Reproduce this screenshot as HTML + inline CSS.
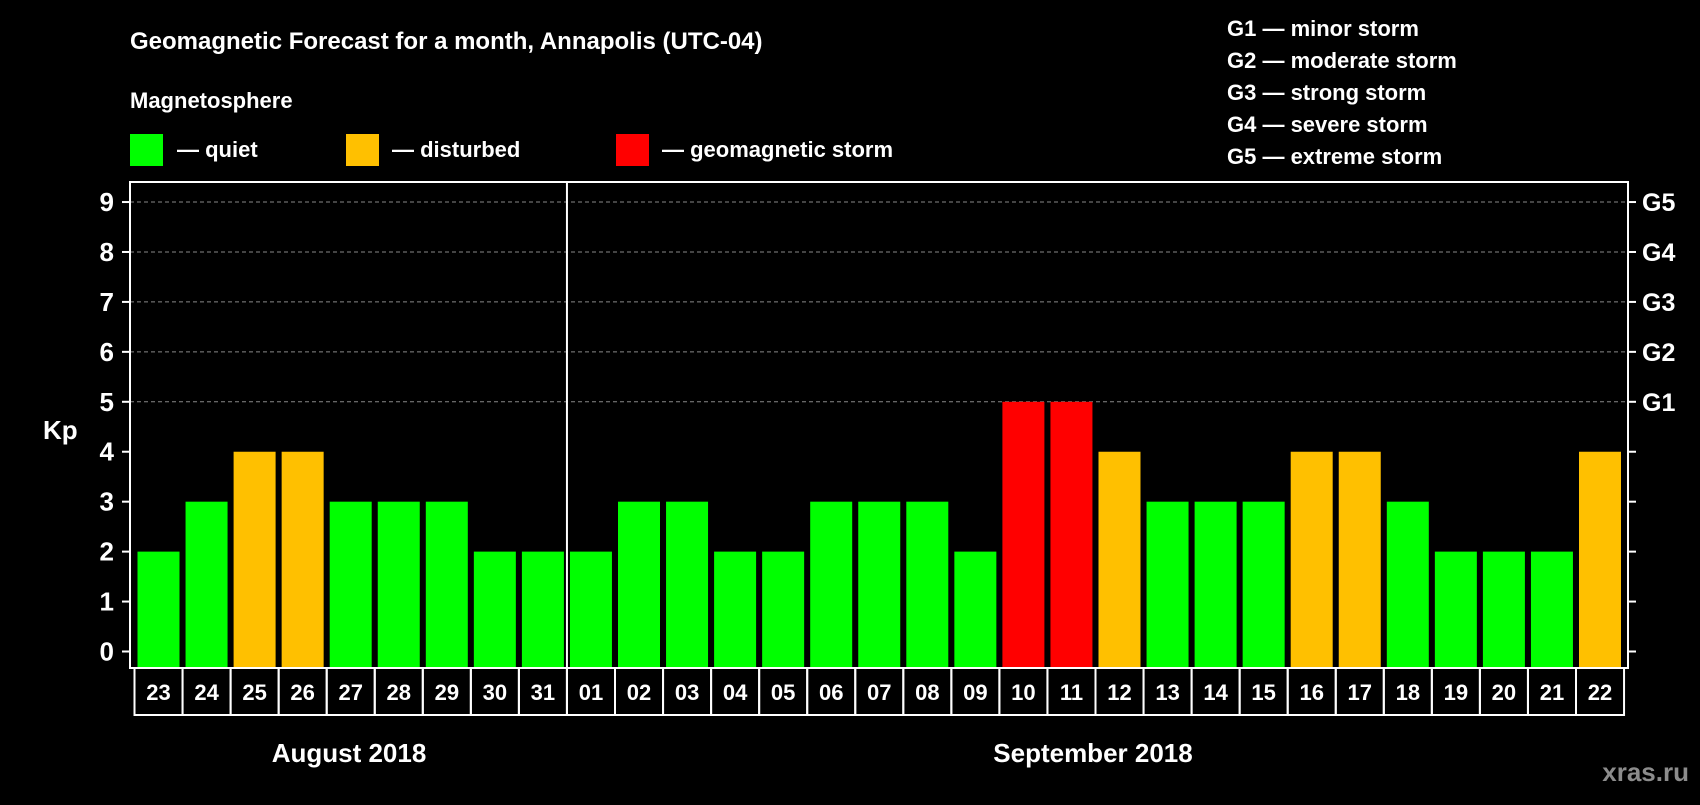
<!DOCTYPE html>
<html><head><meta charset="utf-8"><style>
body{margin:0;background:#000;width:1700px;height:800px;overflow:hidden}
svg text{font-family:"Liberation Sans",Arial,sans-serif;font-weight:bold;fill:#fff}
</style></head><body>
<svg id="c" width="1700" height="800" xmlns="http://www.w3.org/2000/svg">
<rect width="1700" height="800" fill="#000"/>
<text x="130" y="49" font-size="24">Geomagnetic Forecast for a month, Annapolis (UTC-04)</text>
<text x="130" y="108" font-size="22">Magnetosphere</text>
<g><rect x="130" y="134" width="33" height="32" fill="#00ff00"/><text x="177" y="157" font-size="22">— quiet</text></g>
<g><rect x="346" y="134" width="33" height="32" fill="#ffc000"/><text x="392" y="157" font-size="22">— disturbed</text></g>
<g><rect x="616" y="134" width="33" height="32" fill="#ff0000"/><text x="662" y="157" font-size="22">— geomagnetic storm</text></g>
<g font-size="22">
<text x="1227" y="36">G1 — minor storm</text>
<text x="1227" y="68">G2 — moderate storm</text>
<text x="1227" y="100">G3 — strong storm</text>
<text x="1227" y="132">G4 — severe storm</text>
<text x="1227" y="164">G5 — extreme storm</text>
</g>
<text x="43" y="439" font-size="26">Kp</text>
<text x="349" y="762" font-size="26" text-anchor="middle">August 2018</text>
<text x="1093" y="762" font-size="26" text-anchor="middle">September 2018</text>
<text x="1689" y="781" font-size="26" text-anchor="end" style="fill:#8c8c8c">xras.ru</text>
<g id="plot"></g>
</svg>
<script>
const days=["23","24","25","26","27","28","29","30","31","01","02","03","04","05","06","07","08","09","10","11","12","13","14","15","16","17","18","19","20","21","22"];
const kp=[2,3,4,4,3,3,3,2,2,2,3,3,2,2,3,3,3,2,5,5,4,3,3,3,4,4,3,2,2,2,4];
const yTicks=[0,1,2,3,4,5,6,7,8,9];
const gLabels=["","","","","","G1","G2","G3","G4","G5"];
const NS="http://www.w3.org/2000/svg";
const g=document.getElementById('plot');
const L=130,R=1628,T=182,B=668,x0=134.5,slot=48.05,bw=42;
const y=v=>651.5-v*49.94;
const x=i=>x0+i*slot;
function mk(t,a,p){const e=document.createElementNS(NS,t);for(const k in a)e.setAttribute(k,a[k]);(p||g).appendChild(e);return e;}
yTicks.forEach((v,i)=>{
 if(v>=5){const gl=mk('line',{x1:L,x2:R,y1:y(v),y2:y(v),stroke:'#888','stroke-dasharray':'4,3','stroke-width':1});
 
 }
 const t1=mk('line',{x1:L-8,x2:L,y1:y(v),y2:y(v),stroke:'#fff','stroke-width':2});
 
 
 const t2=mk('line',{x1:R,x2:R+8,y1:y(v),y2:y(v),stroke:'#fff','stroke-width':2});
 
 
 const tl=mk('text',{x:114,y:y(v)+9,'font-size':26,'text-anchor':'end'});tl.textContent=v;
 
 
 if(gLabels[i]){const gt=mk('text',{x:1642,y:y(v)+9,'font-size':25});gt.textContent=gLabels[i];
 
 }
});
kp.forEach((v,i)=>{
 const c=v>=5?'#ff0000':v>=4?'#ffc000':'#00ff00';
 const b=mk('rect',{x:x(i)+3,y:y(v),width:bw,height:y(0)-y(v)+16,fill:c});
 
 
 const bx=mk('rect',{x:x(i),y:B,width:slot,height:47,fill:'none',stroke:'#fff','stroke-width':2});
 
 
 const t=mk('text',{x:x(i)+slot/2,y:700,'font-size':22,'text-anchor':'middle'});t.textContent=days[i];
 
 
});
const fr=mk('rect',{x:L,y:T,width:R-L,height:B-T,fill:'none',stroke:'#fff','stroke-width':2});


const sep=mk('line',{x1:x(9),x2:x(9),y1:T,y2:B+47,stroke:'#fff','stroke-width':2});


</script>
</body></html>
